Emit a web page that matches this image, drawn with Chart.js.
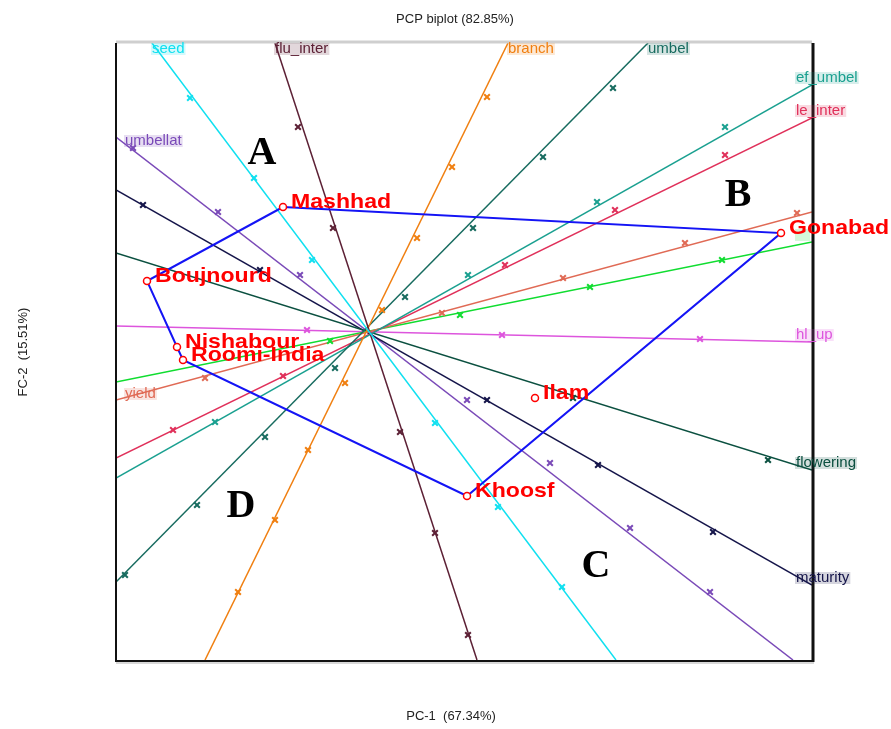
<!DOCTYPE html>
<html>
<head>
<meta charset="utf-8">
<script src="https://cdn.jsdelivr.net/npm/chart.js@4.4.1/dist/chart.umd.min.js"></script>
<style>
  html, body { margin: 0; padding: 0; background: #fff; }
  #wrap { width: 891px; height: 729px; position: relative; }
</style>
</head>
<body>
<div id="wrap"><canvas id="biplot"></canvas></div>
<script>
// variable vectors: first point is the labelled tip, second the opposite end
const varNames = ['seed', 'flu_inter', 'branch', 'umbel', 'ef_umbel', 'le_inter',
  'yield', '', 'hl_up', 'flowering', 'maturity', 'umbellat'];
const varEnds = [
  [[-2.18, 2.90], [2.46, -3.27]],
  [[-0.95, 2.90], [1.07, -3.27]],
  [[1.38, 2.90], [-1.65, -3.27]],
  [[2.78, 2.90], [-2.54, -2.49]],
  [[4.42, 2.48], [-2.54, -1.45]],
  [[4.42, 2.15], [-2.54, -1.25]],
  [[-2.54, -0.67], [4.42, 1.21]],
  [[4.42, 0.91], [-2.54, -0.49]],
  [[4.42, -0.09], [-2.54, 0.07]],
  [[4.42, -1.37], [-2.54, 0.80]],
  [[4.42, -2.52], [-2.54, 1.43]],
  [[-2.54, 1.96], [4.23, -3.27]]
];
// calibration marks along each vector
const varMarks = [
  [[-1.80, 2.35], [-1.16, 1.55], [-0.58, 0.73], [0.65, -0.90], [1.28, -1.74], [1.92, -2.54]],
  [[-0.72, 2.06], [-0.37, 1.05], [0.30, -0.99], [0.65, -2.00], [0.98, -3.02]],
  [[1.17, 2.36], [0.82, 1.66], [0.47, 0.95], [0.12, 0.23], [-0.25, -0.50], [-0.62, -1.17], [-0.95, -1.87], [-1.32, -2.59]],
  [[2.43, 2.45], [1.73, 1.76], [1.03, 1.05], [0.35, 0.36], [-0.35, -0.35], [-1.05, -1.04], [-1.73, -1.72], [-2.45, -2.42]],
  [[3.55, 2.06], [2.27, 1.31], [0.98, 0.58], [-1.55, -0.89]],
  [[3.55, 1.78], [2.45, 1.23], [1.35, 0.68], [-0.87, -0.43], [-1.97, -0.97]],
  [[4.27, 1.20], [3.15, 0.90], [1.93, 0.55], [0.72, 0.20], [-1.65, -0.45]],
  [[3.52, 0.73], [2.20, 0.46], [0.90, 0.18], [-0.40, -0.08]],
  [[-0.63, 0.03], [1.32, -0.02], [3.30, -0.06]],
  [[2.03, -0.65], [3.98, -1.27]],
  [[-2.27, 1.28], [-1.10, 0.63], [1.17, -0.67], [2.28, -1.32], [3.43, -1.99]],
  [[-2.37, 1.85], [-1.52, 1.21], [-0.70, 0.58], [0.97, -0.67], [1.80, -1.30], [2.60, -1.95], [3.40, -2.59]]
];
const varColors = ['#10e0f0', '#5c2035', '#f07f10', '#176b5f', '#1aa090', '#e0305a',
  '#e06a55', '#10dd30', '#dd55dd', '#0b5040', '#15154a', '#7a4ab8'];

// genotype scores
const genoNames = ['Mashhad', 'Gonabad', 'Boujnourd', 'Nishabour', 'Roomi-India', 'Ilam', 'Khoosf'];
const genoX = [-0.87, 4.11, -2.23, -1.93, -1.87, 1.65, 0.97];
const genoY = [1.26, 1.00, 0.52, -0.14, -0.27, -0.65, -1.63];
const hullOrder = ['Mashhad', 'Gonabad', 'Khoosf', 'Roomi-India', 'Nishabour', 'Boujnourd', 'Mashhad'];

// sector letters
const sectorNames = ['A', 'B', 'C', 'D'];
const sectorX = [-1.08, 3.68, 2.26, -1.29];
const sectorY = [1.81, 1.39, -2.32, -1.72];

const datasets = [];
varNames.forEach((n, i) => {
  datasets.push({
    label: n || 'var' + i,
    data: varEnds[i].map(p => ({ x: p[0], y: p[1] })),
    showLine: true,
    borderColor: varColors[i],
    borderWidth: 1.5,
    pointRadius: 0,
    order: 4
  });
  datasets.push({
    label: (n || 'var' + i) + ' marks',
    data: varMarks[i].map(p => ({ x: p[0], y: p[1] })),
    showLine: false,
    pointStyle: 'crossRot',
    pointRadius: 4,
    borderColor: varColors[i],
    pointBorderWidth: 2,
    order: 3
  });
});
datasets.push({
  label: 'hull',
  data: hullOrder.map(n => {
    let k = genoNames.indexOf(n);
    return { x: genoX[k], y: genoY[k] };
  }),
  showLine: true,
  borderColor: '#1414f5',
  borderWidth: 2,
  pointRadius: 0,
  order: 1
});
datasets.push({
  label: 'genotypes',
  data: genoNames.map((n, k) => ({ x: genoX[k], y: genoY[k] })),
  showLine: false,
  pointRadius: 3.5,
  pointBorderColor: '#ff0000',
  pointBackgroundColor: '#ffffff',
  pointBorderWidth: 1.5,
  order: 0
});

function hexAlpha(hex, a) {
  let r = parseInt(hex.slice(1, 3), 16), g = parseInt(hex.slice(3, 5), 16), b = parseInt(hex.slice(5, 7), 16);
  return 'rgba(' + r + ',' + g + ',' + b + ',' + a + ')';
}

const decorations = {
  id: 'decorations',
  afterDatasetsDraw(chart) {
    const ctx = chart.ctx, a = chart.chartArea;
    const xs = chart.scales.x, ys = chart.scales.y;
    ctx.save();

    // frame
    ctx.strokeStyle = '#cfcfcf'; ctx.lineWidth = 3;
    ctx.beginPath(); ctx.moveTo(a.left, a.top - 1); ctx.lineTo(a.right, a.top - 1); ctx.stroke();
    ctx.strokeStyle = '#d8d8d8'; ctx.lineWidth = 2;
    ctx.beginPath(); ctx.moveTo(a.left, a.bottom + 3); ctx.lineTo(a.right + 2, a.bottom + 3); ctx.stroke();
    ctx.strokeStyle = '#111'; ctx.lineWidth = 2;
    ctx.beginPath();
    ctx.moveTo(a.left, a.top); ctx.lineTo(a.left, a.bottom + 1);
    ctx.lineTo(a.right + 1, a.bottom + 1);
    ctx.stroke();
    ctx.lineWidth = 3;
    ctx.beginPath(); ctx.moveTo(a.right + 1, a.top); ctx.lineTo(a.right + 1, a.bottom + 2); ctx.stroke();

    // variable labels
    ctx.font = '15px "Liberation Sans", Arial, sans-serif';
    varNames.forEach((n, i) => {
      const p0 = varEnds[i][0], p1 = varEnds[i][1];
      const px = xs.getPixelForValue(p0[0]), py = ys.getPixelForValue(p0[1]);
      const py2 = ys.getPixelForValue(p1[1]);
      let tx, ty;
      if (py <= a.top + 1) { tx = px; ty = a.top + 6; }
      else if (px >= a.right - 1) { tx = px - 16; ty = py - 7; }
      else { tx = px + 9; ty = py + (py2 > py ? 4 : -6); }
      const w = n ? ctx.measureText(n).width : 13;
      ctx.fillStyle = hexAlpha(varColors[i], 0.18);
      ctx.fillRect(tx - 1, ty - 6, w + 2, 12);
      if (n) {
        ctx.fillStyle = varColors[i];
        ctx.textAlign = 'left'; ctx.textBaseline = 'middle';
        ctx.fillText(n, tx, ty);
      }
    });

    // genotype labels (slightly wide, like the original)
    ctx.font = 'bold 21px "Liberation Sans", Arial, sans-serif';
    ctx.fillStyle = '#ff0000';
    ctx.textAlign = 'left'; ctx.textBaseline = 'alphabetic';
    genoNames.forEach((n, k) => {
      const gx = xs.getPixelForValue(genoX[k]) + 8, gy = ys.getPixelForValue(genoY[k]) + 1;
      ctx.save();
      ctx.translate(gx, gy);
      ctx.scale(1.1, 1);
      ctx.fillText(n, 0, 0);
      ctx.restore();
    });

    // sector letters
    ctx.font = 'bold 40px "Liberation Serif", "Times New Roman", serif';
    ctx.fillStyle = '#000';
    ctx.textAlign = 'center'; ctx.textBaseline = 'middle';
    sectorNames.forEach((s, k) => {
      ctx.fillText(s, xs.getPixelForValue(sectorX[k]), ys.getPixelForValue(sectorY[k]) + 2);
    });

    // titles
    ctx.fillStyle = '#222';
    ctx.font = '13px "Liberation Sans", Arial, sans-serif';
    ctx.textAlign = 'center'; ctx.textBaseline = 'middle';
    ctx.fillText('PCP biplot (82.85%)', 455, 19);
    ctx.fillText('PC-1  (67.34%)', 451, 716);
    ctx.translate(23, 352);
    ctx.rotate(-Math.PI / 2);
    ctx.fillText('FC-2  (15.51%)', 0, 0);
    ctx.restore();
  }
};

new Chart(document.getElementById('biplot'), {
  type: 'scatter',
  data: { datasets: datasets },
  options: {
    responsive: true,
    maintainAspectRatio: false,
    animation: false,
    layout: { padding: { left: 116, top: 43, right: 79, bottom: 69 } },
    plugins: { legend: { display: false }, tooltip: { enabled: false }, title: { display: false } },
    scales: {
      x: { type: 'linear', min: -2.54, max: 4.42, display: false },
      y: { type: 'linear', min: -3.27, max: 2.90, display: false }
    }
  },
  plugins: [decorations]
});
</script>
</body>
</html>
